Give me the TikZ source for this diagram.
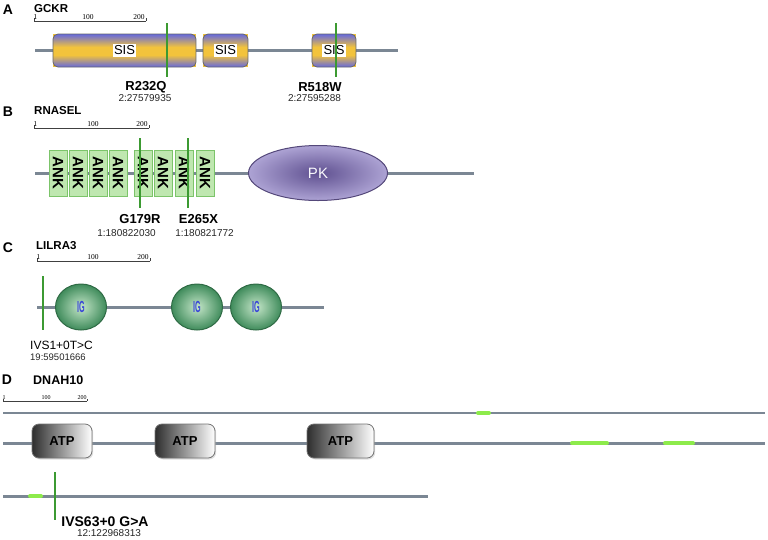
\documentclass[tikz,border=0pt]{standalone}
\usepackage{fontspec}
\setmainfont{Liberation Sans}
\newfontfamily\barfont{Liberation Serif}
\usepackage{tikz}
\usetikzlibrary{shapes.geometric,shadows,calc}

\definecolor{bbgray}{HTML}{7B8794}
\definecolor{sisblue}{HTML}{6468DE}
\definecolor{sisyellow}{HTML}{F2C33C}
\definecolor{ankfill}{HTML}{BFE7B0}
\definecolor{ankdraw}{HTML}{7CC46A}
\definecolor{pkin}{HTML}{5F5090}
\definecolor{pkout}{HTML}{ADA3D4}
\definecolor{pkdraw}{HTML}{54487A}
\definecolor{igin}{HTML}{C4E6C8}
\definecolor{igout}{HTML}{3F8B5B}
\definecolor{igdraw}{HTML}{2F6B45}
\definecolor{igtext}{HTML}{3A46D8}
\definecolor{varline}{HTML}{3C9A32}
\definecolor{blob}{HTML}{8DEB4B}

\begin{document}
\begin{tikzpicture}[x=1pt,y=-1pt,
  panel/.style={font=\fontsize{14}{14}\selectfont\bfseries,inner sep=0pt},
  gene/.style={font=\fontsize{11.5}{12}\selectfont\bfseries,anchor=west,inner sep=0pt},
  backbone/.style={draw=bbgray,line width=3pt},
  thinbone/.style={draw=bbgray,line width=2pt},
  scalebar/.style={draw=black!75,line width=.6pt},
  scalelbl/.style={font=\barfont\fontsize{7.5}{8}\selectfont,inner sep=0pt,anchor=south},
  sisdom/.style={fill=sisyellow,minimum height=33pt,inner sep=0pt,outer sep=0pt},
  sisedge/.style={draw=black!60,line width=.7pt,rounded corners=5pt},
  sislbl/.style={fill=white,inner sep=1.5pt,font=\fontsize{13}{13}\selectfont},
  ankbox/.style={draw=ankdraw,fill=ankfill,line width=1pt,rotate=-90,minimum width=46pt,minimum height=18pt,inner sep=0pt,font=\fontsize{15}{15}\selectfont\bfseries},
  pkdom/.style={ellipse,draw=pkdraw,line width=1pt,inner color=pkin,outer color=pkout,minimum width=139pt,minimum height=55pt,text=white!92!pkout,font=\fontsize{15}{15}\selectfont},
  igdom/.style={ellipse,draw=igdraw,line width=1pt,inner color=igin,outer color=igout,minimum width=51pt,minimum height=46pt,text=igtext,font=\fontsize{16}{16}\selectfont\bfseries},
  atpdom/.style={draw=black!55,line width=.8pt,rounded corners=7pt,left color=black!82,right color=white,minimum width=60pt,minimum height=34pt,inner sep=0pt,font=\fontsize{13}{13}\selectfont\bfseries,drop shadow={shadow xshift=1.2pt,shadow yshift=-1.5pt,fill=black!25}},
  blobln/.style={draw=blob,line width=4pt,line cap=round},
  varln/.style={draw=varline,line width=1.2pt},
  varname/.style={font=\fontsize{13}{13}\selectfont\bfseries,inner sep=0pt},
  varpos/.style={font=\fontsize{10}{10}\selectfont,inner sep=0pt,text=black!85},
]
\useasboundingbox (0,0) rectangle (768,539);

% panel titles
\node[panel] (pA) at (8,10) {A};
\node[gene] (gA) at (34,9) {GCKR};
\node[panel] (pB) at (8,112) {B};
\node[gene] (gB) at (34,111) {RNASEL};
\node[panel] (pC) at (8,248) {C};
\node[gene] (gC) at (36,246) {LILRA3};
\node[panel] (pD) at (7,380) {D};
\node[gene,font=\fontsize{12.5}{13}\selectfont\bfseries] (gD) at (33,380) {DNAH10};

% scale bars
\foreach \i/\xa/\ya/\xb/\xm/\xr in {A/34/21/146/88/139,B/34/128/149/93/142,C/37/261/150/93/143}{
  \coordinate (s\i0) at (\xa,\ya);
  \coordinate (s\i1) at (\xb,\ya);
  \draw[scalebar] (s\i0) -- (s\i1);
  \draw[scalebar] (s\i0) -- ++(0,-3) (s\i1) -- ++(0,-3);
  \node[scalelbl] at (\xa+1.5,\ya-1) {1};
  \node[scalelbl] at (\xm,\ya-1) {100};
  \node[scalelbl] at (\xr,\ya-1) {200};
}
\coordinate (sD0) at (3,401);
\coordinate (sD1) at (87,401);
\draw[scalebar,line width=.5pt] (sD0) -- (sD1);
\draw[scalebar,line width=.5pt] (sD0) -- ++(0,-2.5) (sD1) -- ++(0,-2.5);
\node[scalelbl,font=\barfont\fontsize{6}{6}\selectfont] at (4,400) {1};
\node[scalelbl,font=\barfont\fontsize{6}{6}\selectfont] at (46,400) {100};
\node[scalelbl,font=\barfont\fontsize{6}{6}\selectfont] at (82,400) {200};

% A: GCKR
\coordinate (bA0) at (35,50);
\coordinate (bA1) at (398,50);
\draw[backbone] (bA0) -- (bA1);
\foreach \n/\x/\w in {1/124.5/143,2/225.5/45,3/334/44}{
  \node[sisdom,minimum width=\w pt] (sis\n) at (\x,50.5) {};
  \begin{scope}
    \clip[rounded corners=5pt] (sis\n.north west) rectangle (sis\n.south east);
    \shade[top color=sisblue,bottom color=sisyellow] (sis\n.north west) rectangle ($(sis\n.north east)+(0,13)$);
    \shade[top color=sisyellow,bottom color=sisblue] ($(sis\n.south west)+(0,-12)$) rectangle (sis\n.south east);
  \end{scope}
  \draw[sisedge] (sis\n.north west) rectangle (sis\n.south east);
  \node[sislbl] (sisl\n) at (sis\n.center) {SIS};
}
\coordinate (vA1t) at (167,23);
\coordinate (vA1b) at (167,77);
\draw[varln] (vA1t) -- (vA1b);
\coordinate (vA2t) at (336,23);
\coordinate (vA2b) at (336,77);
\draw[varln] (vA2t) -- (vA2b);
\node[varname] (nA1) at (146,87) {R232Q};
\node[varpos] (qA1) at (145,98.5) {2:27579935};
\node[varname] (nA2) at (320,87) {R518W};
\node[varpos] (qA2) at (314.5,98.5) {2:27595288};

% B: RNASEL
\coordinate (bB0) at (35,173);
\coordinate (bB1) at (474,173);
\draw[backbone] (bB0) -- (bB1);
\foreach \n/\x in {1/58,2/78,3/98,4/118,5/143,6/163,7/184,8/205}{
  \node[ankbox] (ank\n) at (\x,173) {ANK};
}
\node[pkdom] (pk) at (318,173) {PK};
\coordinate (vB1t) at (140,138);
\coordinate (vB1b) at (140,208);
\draw[varln] (vB1t) -- (vB1b);
\coordinate (vB2t) at (188,138);
\coordinate (vB2b) at (188,208);
\draw[varln] (vB2t) -- (vB2b);
\node[varname] (nB1) at (140,219) {G179R};
\node[varpos] (qB1) at (126.5,233) {1:180822030};
\node[varname] (nB2) at (198.5,219) {E265X};
\node[varpos] (qB2) at (204.5,233) {1:180821772};

% C: LILRA3
\coordinate (bC0) at (37,307);
\coordinate (bC1) at (324,307);
\draw[backbone] (bC0) -- (bC1);
\foreach \n/\x in {1/81,2/197,3/256}{
  \node[igdom] (ig\n) at (\x,307) {\scalebox{.45}[1]{IG}};
}
\coordinate (vC1t) at (43,276);
\coordinate (vC1b) at (43,330);
\draw[varln] (vC1t) -- (vC1b);
\node[varname,font=\fontsize{12}{12}\selectfont,anchor=west] (nC1) at (30,345) {IVS1+0T>C};
\node[varpos,font=\fontsize{9.5}{10}\selectfont,anchor=west] (qC1) at (30,357) {19:59501666};

% D: DNAH10
\coordinate (bD0) at (3,413);
\coordinate (bD1) at (765,413);
\draw[thinbone] (bD0) -- (bD1);
\coordinate (gD1a) at (478,413);
\coordinate (gD1b) at (489,413);
\draw[blobln] (gD1a) -- (gD1b);
\coordinate (bD2) at (3,443);
\coordinate (bD3) at (765,443);
\draw[backbone] (bD2) -- (bD3);
\foreach \n/\x/\w in {1/62/60,2/185/60,3/340.5/67}{
  \node[atpdom,minimum width=\w pt] (atp\n) at (\x,441) {ATP};
}
\coordinate (gD2a) at (572,443);
\coordinate (gD2b) at (607,443);
\draw[blobln] (gD2a) -- (gD2b);
\coordinate (gD3a) at (665,443);
\coordinate (gD3b) at (693,443);
\draw[blobln] (gD3a) -- (gD3b);
\coordinate (bD4) at (3,496);
\coordinate (bD5) at (428,496);
\draw[backbone] (bD4) -- (bD5);
\coordinate (gD4a) at (30,496);
\coordinate (gD4b) at (41,496);
\draw[blobln] (gD4a) -- (gD4b);
\coordinate (vD1t) at (55,472);
\coordinate (vD1b) at (55,520);
\draw[varln] (vD1t) -- (vD1b);
\node[varname,font=\fontsize{14}{14}\selectfont\bfseries] (nD1) at (105,522) {IVS63+0 G>A};
\node[varpos] (qD1) at (109,533) {12:122968313};
\end{tikzpicture}
\end{document}
